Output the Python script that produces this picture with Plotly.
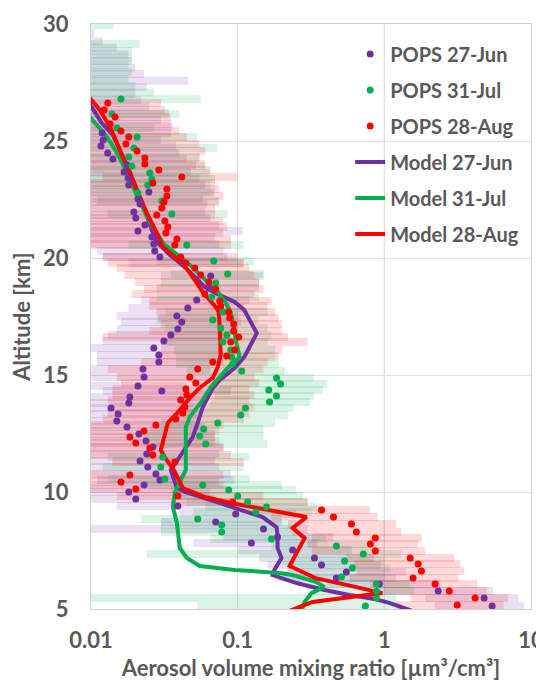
import plotly.graph_objects as go

# ---------------- POPS 27-Jun ----------------
jun_alt = [29.60, 29.26, 28.98, 28.70, 28.42, 28.14, 27.86, 27.58, 27.30, 27.02, 26.74, 26.46, 26.18, 25.90, 25.62,
           25.34, 25.04, 24.79, 24.49, 24.23, 23.97, 23.68, 23.42, 23.12, 22.82, 22.52, 22.31, 21.97, 21.71, 21.41,
           21.15, 20.90, 20.60, 20.30, 20.04, 19.79, 19.23, 18.72, 18.21, 17.86, 17.52, 17.26, 16.97, 16.71, 16.45,
           16.15, 15.85, 15.56, 15.26, 14.91, 14.53, 14.32, 14.06, 13.80, 13.59, 13.33, 13.03, 12.78, 12.48, 12.18,
           11.92, 11.62, 11.32, 11.07, 10.77, 10.51, 10.30, 10.00, 9.70, 9.40, 9.06, 8.72, 8.42, 8.08, 7.82,
           7.52, 7.18, 6.88, 6.58, 6.32, 6.07, 5.77, 5.47, 5.13]
jun_val = [0.004, 0.004, 0.004, 0.0045, 0.005, 0.005, 0.0055, 0.006, 0.006, 0.0065, 0.007, 0.007, 0.0075, 0.008, 0.0085,
           0.0119, 0.0121, 0.0117, 0.0130, 0.0141, 0.0176, 0.0168, 0.0179, 0.0181, 0.0248, 0.0209, 0.0216, 0.0196, 0.0202, 0.0233,
           0.0209, 0.0260, 0.0268, 0.0272, 0.0295, 0.0423, 0.0655, 0.0635, 0.0526, 0.0457, 0.0385, 0.0416, 0.0391, 0.0350, 0.0314,
           0.0268, 0.0290, 0.0290, 0.0226, 0.0230, 0.0209, 0.0304, 0.0184, 0.0181, 0.0137, 0.0153, 0.0150, 0.0176, 0.0212, 0.0237,
           0.0264, 0.0240, 0.0216, 0.0244, 0.0277, 0.0295, 0.0230, 0.0181, 0.0202, 0.0391, 0.0969, 0.0708, 0.150, 0.187, 0.124,
           0.237, 0.334, 0.373, 0.551, 0.471, 0.925, 2.33, 4.79, 5.43]
jun_lo = [0.002] * 15 + [
           0.004, 0.004, 0.004, 0.005, 0.005, 0.006, 0.006, 0.006, 0.007, 0.009, 0.007, 0.007, 0.006, 0.007, 0.008,
           0.007, 0.009, 0.010, 0.011, 0.012, 0.018, 0.030, 0.028, 0.022, 0.018, 0.015, 0.016, 0.015, 0.013, 0.012,
           0.010, 0.011, 0.011, 0.009, 0.009, 0.006, 0.012, 0.007, 0.007, 0.006, 0.006, 0.006, 0.007, 0.008, 0.009,
           0.010, 0.009, 0.008, 0.009, 0.010, 0.011, 0.009, 0.007, 0.008, 0.015, 0.040, 0.030, 0.008, 0.080, 0.050,
           0.10, 0.14, 0.16, 0.22, 0.20, 0.40, 0.90, 1.9, 2.2]
jun_hi = [0.0105, 0.012, 0.015, 0.018, 0.019, 0.020, 0.023, 0.046, 0.024, 0.020, 0.022, 0.025, 0.034, 0.030, 0.036,
          0.035, 0.030, 0.038, 0.040, 0.045, 0.052, 0.048, 0.055, 0.060, 0.070, 0.058, 0.062, 0.060, 0.065, 0.075,
          0.108, 0.070, 0.075, 0.080, 0.085, 0.110, 0.150, 0.140, 0.120, 0.110, 0.100, 0.105, 0.100, 0.090, 0.085,
          0.075, 0.080, 0.080, 0.065, 0.070, 0.045, 0.090, 0.060, 0.060, 0.050, 0.055, 0.055, 0.060, 0.070, 0.075,
          0.080, 0.075, 0.070, 0.075, 0.090, 0.095, 0.080, 0.065, 0.070, 0.120, 0.250, 0.200, 0.300, 0.450, 0.350,
          0.60, 0.85, 0.95, 1.4, 1.2, 2.4, 5.5, 8.2, 9.0]

# ---------------- POPS 31-Jul ----------------
jul_alt = [29.96, 29.15, 28.85, 28.55, 28.25, 27.95, 27.65, 27.35, 27.07,
           26.79, 26.15, 25.56, 25.17, 24.70, 24.32, 23.93, 23.63, 23.38, 23.12,
           22.78, 22.44, 21.88, 20.56, 19.87, 19.32, 18.93, 18.33, 17.69, 17.35,
           17.01, 16.71, 16.41, 16.07, 15.77, 15.47, 15.17, 14.87, 14.62, 14.36,
           14.10, 13.85, 13.59, 13.29, 12.95, 12.69, 12.39, 12.05, 11.50, 11.07,
           10.56, 10.30, 10.09, 9.83, 9.57, 9.36, 9.15, 8.85, 8.59, 8.29,
           7.99, 7.69, 7.35, 7.05, 6.75, 6.37, 6.07, 5.77, 5.47, 5.13]
jul_val = [0.0055, 0.006, 0.0065, 0.007, 0.007, 0.0075, 0.008, 0.008, 0.0085,
           0.0160, 0.0139, 0.0150, 0.0206, 0.0196, 0.0181, 0.0190, 0.0252, 0.0260, 0.0244,
           0.0209, 0.0304, 0.0356, 0.0450, 0.0687, 0.0855, 0.0708, 0.0665, 0.0791, 0.0676,
           0.0766, 0.0842, 0.0791, 0.0896, 0.0911, 0.0925, 0.1065, 0.184, 0.196, 0.163,
           0.184, 0.165, 0.113, 0.105, 0.0731, 0.0587, 0.0551, 0.0606, 0.0309, 0.0299,
           0.0319, 0.0578, 0.0868, 0.100, 0.117, 0.157, 0.133, 0.0534, 0.0778, 0.0778,
           0.170, 0.471, 0.719, 0.535, 0.606, 0.510, 0.883, 0.883, 0.883, 0.743]
jul_lo = [0.002] * 9 + [
          0.006, 0.005, 0.005, 0.007, 0.007, 0.006, 0.007, 0.009, 0.009, 0.009,
          0.008, 0.011, 0.013, 0.018, 0.028, 0.035, 0.030, 0.028, 0.032, 0.028,
          0.032, 0.035, 0.033, 0.037, 0.038, 0.038, 0.045, 0.070, 0.075, 0.065,
          0.070, 0.065, 0.045, 0.042, 0.030, 0.025, 0.023, 0.025, 0.013, 0.012,
          0.013, 0.024, 0.035, 0.040, 0.045, 0.060, 0.050, 0.022, 0.030, 0.030,
          0.065, 0.17, 0.024, 0.20, 0.22, 0.18, 0.30, 0.30, 0.009, 0.053]
jul_hi = [0.0143, 0.0215, 0.019, 0.019, 0.018, 0.019, 0.018, 0.020, 0.027,
          0.056, 0.040, 0.027, 0.053, 0.072, 0.055, 0.060, 0.065, 0.070, 0.065,
          0.068, 0.074, 0.085, 0.110, 0.130, 0.150, 0.140, 0.140, 0.160, 0.140,
          0.160, 0.170, 0.160, 0.180, 0.180, 0.190, 0.210, 0.330, 0.410, 0.380,
          0.330, 0.310, 0.240, 0.220, 0.180, 0.150, 0.150, 0.160, 0.120, 0.110,
          0.120, 0.200, 0.250, 0.280, 0.300, 0.350, 0.320, 0.200, 0.250, 0.250,
          0.400, 0.90, 1.3, 1.0, 1.1, 1.0, 1.5, 1.6, 1.2, 1.3]

# ---------------- POPS 28-Aug ----------------
aug_alt = [26.62, 26.32, 26.03, 25.73, 25.43, 25.17, 24.87, 24.57, 24.27, 24.02,
           23.76, 23.46, 23.21, 22.95, 22.65, 22.39, 22.14, 21.84, 21.58, 21.32,
           21.07, 20.81, 20.56, 20.04, 19.79, 19.57, 19.27, 18.97, 18.68, 18.46,
           18.16, 17.95, 17.69, 17.44, 17.18, 16.88, 16.62, 16.41, 16.07, 15.81,
           15.56, 15.26, 14.91, 14.66, 14.40, 14.15, 13.93, 13.63, 13.38, 13.12,
           12.86, 12.61, 12.35, 12.09, 11.88, 11.58, 11.28, 10.73, 10.43, 10.13,
           9.83, 9.57, 9.23, 8.93, 8.63, 8.29, 8.03, 7.78, 7.48, 7.18,
           6.92, 6.62, 6.32, 6.07, 5.77, 5.47, 5.17]
aug_val = [0.0130, 0.0123, 0.0146, 0.0135, 0.0160, 0.0181, 0.0173, 0.0206, 0.0233, 0.0233,
           0.0290, 0.0416, 0.0264, 0.0329, 0.0329, 0.0314, 0.0304, 0.0281, 0.0319, 0.0334,
           0.0324, 0.0385, 0.0373, 0.0409, 0.0443, 0.0510, 0.0560, 0.0635, 0.0708, 0.0597,
           0.0755, 0.0766, 0.0868, 0.0883, 0.0939, 0.0939, 0.1016, 0.0896, 0.0954, 0.0842,
           0.0676, 0.0534, 0.0472, 0.0518, 0.0443, 0.0450, 0.0409, 0.0436, 0.0423, 0.0379,
           0.0277, 0.0230, 0.0184, 0.0202, 0.0252, 0.0264, 0.0373, 0.0184, 0.0160, 0.0202,
           0.0391, 0.0925, 0.373, 0.450, 0.597, 0.645, 0.868, 0.803, 0.868, 1.50,
           1.70, 1.79, 1.57, 2.22, 2.77, 4.16, 3.14]
aug_lo = [0.005, 0.005, 0.005, 0.005, 0.006, 0.007, 0.006, 0.007, 0.008, 0.008,
          0.009, 0.012, 0.008, 0.010, 0.009, 0.008, 0.008, 0.007, 0.008, 0.008,
          0.008, 0.009, 0.009, 0.012, 0.013, 0.015, 0.017, 0.020, 0.023, 0.019,
          0.025, 0.025, 0.028, 0.029, 0.030, 0.025, 0.012, 0.030, 0.030, 0.028,
          0.022, 0.013, 0.015, 0.016, 0.014, 0.014, 0.013, 0.014, 0.013, 0.012,
          0.008, 0.009, 0.008, 0.008, 0.009, 0.010, 0.014, 0.008, 0.007, 0.008,
          0.015, 0.035, 0.14, 0.17, 0.22, 0.24, 0.32, 0.30, 0.32, 0.55,
          0.62, 0.65, 0.58, 0.80, 1.0, 1.5, 1.2]
aug_hi = [0.030, 0.032, 0.035, 0.035, 0.040, 0.045, 0.055, 0.060, 0.055, 0.060,
          0.065, 0.100, 0.070, 0.075, 0.080, 0.075, 0.070, 0.070, 0.080, 0.085,
          0.080, 0.090, 0.090, 0.100, 0.110, 0.120, 0.130, 0.140, 0.150, 0.130,
          0.170, 0.160, 0.180, 0.190, 0.200, 0.200, 0.220, 0.300, 0.200, 0.190,
          0.160, 0.150, 0.130, 0.140, 0.120, 0.130, 0.120, 0.130, 0.120, 0.110,
          0.080, 0.075, 0.070, 0.070, 0.080, 0.090, 0.110, 0.080, 0.075, 0.085,
          0.150, 0.300, 0.80, 0.90, 1.2, 1.3, 1.8, 1.7, 1.9, 3.0,
          3.3, 3.5, 3.2, 4.3, 5.0, 7.0, 6.5]

# ---------------- Model profiles ----------------
mjun_alt = [26.92, 25.81, 25.26, 24.53, 23.68, 22.56, 21.41, 20.73, 20.13, 19.62, 18.76, 18.50, 18.12, 17.78, 16.79,
            15.77, 15.30, 14.79, 14.44, 13.93, 13.63, 12.95, 12.35, 11.71, 11.28, 10.94, 10.17, 10.00, 9.57, 9.27,
            8.93, 8.50, 8.16, 7.61, 7.18, 6.67, 6.45, 6.11, 5.81, 5.60, 5.43, 5.26, 5.09, 4.92]
mjun_val = [0.0091, 0.0117, 0.0141, 0.0160, 0.0184, 0.0216, 0.0252, 0.0277, 0.0345, 0.0436, 0.0597, 0.0708, 0.0954, 0.111, 0.135,
            0.111, 0.0954, 0.0755, 0.0676, 0.0606, 0.0578, 0.0534, 0.0494, 0.0423, 0.0379, 0.0350, 0.0385, 0.0436, 0.0720, 0.1032,
            0.148, 0.184, 0.187, 0.187, 0.199, 0.178, 0.173, 0.252, 0.391, 0.578, 0.855, 1.08, 1.27, 1.55]
mjul_alt = [26.28, 25.38, 24.91, 24.27, 23.55, 22.56, 21.54, 20.60, 19.79, 18.97, 18.55, 18.08, 17.69, 17.05, 16.50,
            15.77, 15.30, 14.91, 14.49, 13.93, 13.21, 12.78, 11.92, 10.94, 10.43, 9.96, 9.36, 8.68, 7.61, 7.18,
            6.84, 6.67, 6.54, 6.45, 6.15, 5.94, 5.68, 5.30, 4.92]
mjul_val = [0.0090, 0.0121, 0.0137, 0.0157, 0.0179, 0.0209, 0.0252, 0.0314, 0.0457, 0.0626, 0.0731, 0.0829, 0.0896, 0.0939, 0.0969,
            0.1032, 0.0855, 0.0755, 0.0655, 0.0578, 0.0472, 0.0443, 0.0443, 0.0443, 0.0403, 0.0373, 0.0362, 0.0385, 0.0403, 0.0450,
            0.0551, 0.0954, 0.193, 0.237, 0.345, 0.390, 0.319, 0.286, 0.272]
maug_alt = [27.09, 26.32, 25.60, 24.91, 23.89, 22.91, 21.92, 21.07, 20.47, 20.04, 19.49, 18.55, 17.91, 17.69, 17.05,
            15.85, 15.34, 14.87, 14.49, 14.02, 13.50, 12.95, 12.35, 11.79, 11.41, 10.94, 10.17, 9.79, 9.53, 9.27,
            8.93, 8.46, 8.03, 6.84, 6.32, 6.03, 5.68, 5.30, 4.92]
maug_val = [0.0091, 0.0115, 0.0135, 0.0150, 0.0176, 0.0206, 0.0240, 0.0281, 0.0309, 0.0373, 0.0457, 0.0578, 0.0708, 0.0742, 0.0755,
            0.0766, 0.0731, 0.0676, 0.0560, 0.0472, 0.0403, 0.0334, 0.0314, 0.0299, 0.0324, 0.0367, 0.0423, 0.0597, 0.0896, 0.148,
            0.295, 0.237, 0.286, 0.226, 0.339, 0.551, 0.969, 0.324, 0.226]

x_tickvals = [0.01, 0.1, 1, 10]
x_ticktext = ["0.01", "0.1", "1", "10"]
y_tickvals = [5, 10, 15, 20, 25, 30]

PURPLE, GREEN, RED = "#7030A0", "#00B050", "#FF0000"
BAND_ALPHA = 0.15
TXT = "#595959"
FONT = "Lato"


def rgba(hexc, a):
    h = hexc.lstrip("#")
    r, g, b = int(h[0:2], 16), int(h[2:4], 16), int(h[4:6], 16)
    return f"rgba({r},{g},{b},{a})"


def band_xy(alt, lo, hi):
    xs, ys = [], []
    for a, l, h in zip(alt, lo, hi):
        xs += [l, h, None]
        ys += [a, a, None]
    return xs, ys


fig = go.Figure()

# horizontal range bands
for alt, lo, hi, col in [(jun_alt, jun_lo, jun_hi, PURPLE),
                         (jul_alt, jul_lo, jul_hi, GREEN),
                         (aug_alt, aug_lo, aug_hi, RED)]:
    bx, by = band_xy(alt, lo, hi)
    fig.add_trace(go.Scatter(x=bx, y=by, mode="lines", showlegend=False, hoverinfo="skip",
                             line=dict(color=rgba(col, BAND_ALPHA), width=8)))

# model lines
for alt, val, col, name, rank in [(mjun_alt, mjun_val, PURPLE, "Model 27-Jun", 4),
                                  (mjul_alt, mjul_val, GREEN, "Model 31-Jul", 5),
                                  (maug_alt, maug_val, RED, "Model 28-Aug", 6)]:
    fig.add_trace(go.Scatter(x=val, y=alt, mode="lines", name=name, legendrank=rank,
                             legendgroup=name, line=dict(color=col, width=4)))

# POPS points
for alt, val, col, name, rank in [(jun_alt, jun_val, PURPLE, "POPS 27-Jun", 1),
                                  (jul_alt, jul_val, GREEN, "POPS 31-Jul", 2),
                                  (aug_alt, aug_val, RED, "POPS 28-Aug", 3)]:
    fig.add_trace(go.Scatter(x=val, y=alt, mode="markers", name=name, legendrank=rank,
                             legendgroup=name, marker=dict(color=col, size=7)))

fig.add_shape(type="line", xref="x", yref="paper", x0=1, x1=1, y0=0, y1=1,
              line=dict(color="#BFBFBF", width=1), layer="below")

# the page body has an 8 px margin, so margins are reduced accordingly
fig.update_layout(
    width=544, height=684,
    margin=dict(l=83, r=21, t=16, b=83, autoexpand=False),
    paper_bgcolor="white", plot_bgcolor="white",
    font=dict(family=FONT, color=TXT, size=18),
    showlegend=True,
    legend=dict(x=0.589, y=0.982, xanchor="left", yanchor="top",
                bgcolor="rgba(0,0,0,0)", tracegroupgap=7,
                font=dict(family=FONT, size=20, color=TXT, weight="bold"),
                itemwidth=30),
    xaxis=dict(type="log", range=[-2, 1], tickvals=x_tickvals, ticktext=x_ticktext,
               automargin=False,
               showgrid=True, gridcolor="#E0E0E0", gridwidth=1,
               showline=True, linecolor="#D0D0D0", mirror=True, ticks="",
               ticklabelstandoff=12,
               tickfont=dict(family=FONT, size=22, color=TXT, weight="bold"),
               title=dict(text="Aerosol volume mixing ratio [µm³/cm³]", standoff=8,
                          font=dict(family=FONT, size=22, color=TXT, weight="bold")),
               zeroline=False),
    yaxis=dict(range=[5, 30], tickvals=y_tickvals,
               automargin=False,
               showgrid=True, gridcolor="#E0E0E0", gridwidth=1,
               showline=True, linecolor="#D0D0D0", mirror=True, ticks="",
               ticklabelstandoff=17,
               tickfont=dict(family=FONT, size=22, color=TXT, weight="bold"),
               title=dict(text="Altitude [km]", standoff=6,
                          font=dict(family=FONT, size=22, color=TXT, weight="bold")),
               zeroline=False),
)

fig.write_html("out.html")
